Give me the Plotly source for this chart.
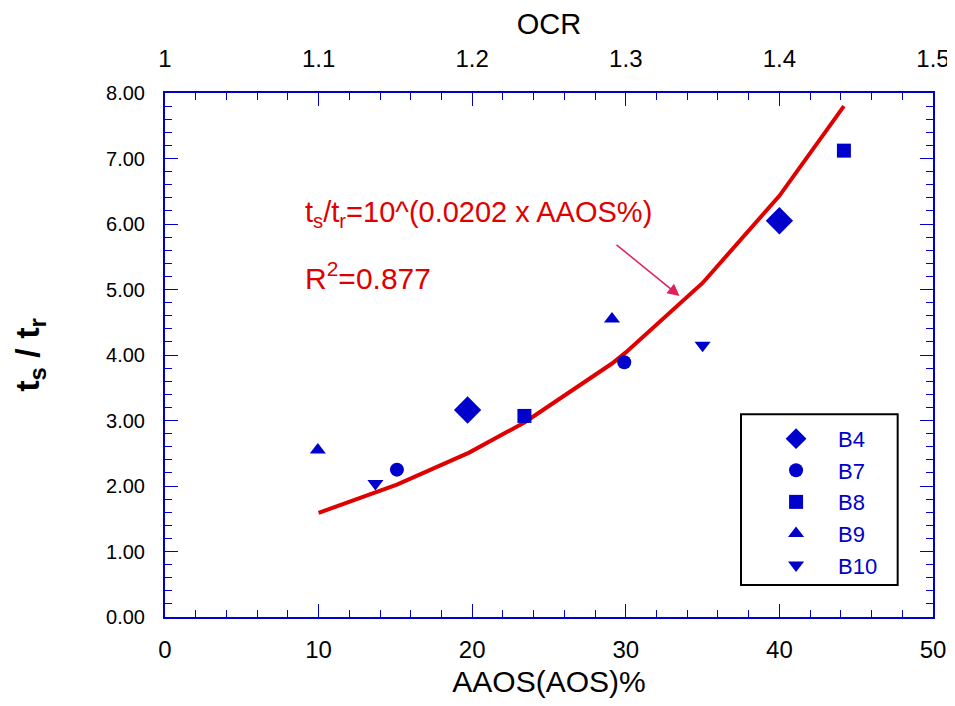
import plotly.graph_objects as go

# ---- data ----
series_names = ["B4", "B7", "B8", "B9", "B10"]
b4_x = [19.7, 40.0]
b4_y = [3.16, 6.05]
b7_x = [15.1, 29.9]
b7_y = [2.25, 3.89]
b8_x = [23.4, 44.2]
b8_y = [3.07, 7.12]
b9_x = [9.95, 29.1]
b9_y = [2.55, 4.55]
b10_x = [13.7, 35.0]
b10_y = [2.04, 4.15]

fit_x = [10.0, 13.8, 15.1, 19.8, 23.4, 29.1, 30.0, 35.0, 40.0, 44.2]
fit_y = [1.59, 1.90, 2.02, 2.51, 2.97, 3.87, 4.04, 5.10, 6.43, 7.80]

x_ticks = [0, 10, 20, 30, 40, 50]
ocr_ticks = [1, 1.1, 1.2, 1.3, 1.4, 1.5]
ocr_labels = ["1", "1.1", "1.2", "1.3", "1.4", "1.5"]
y_ticks = [0, 1, 2, 3, 4, 5, 6, 7, 8]

BLUE = "#0000cc"
RED = "#e00000"
FONT = "Arial, Liberation Sans, sans-serif"

fig = go.Figure()

fig.add_trace(go.Scatter(x=fit_x, y=fit_y, mode="lines",
                         line=dict(color=RED, width=4), showlegend=False,
                         hoverinfo="skip"))

symbols = ["diamond", "circle", "square", "triangle-up", "triangle-down"]
sizes = [21, 14, 14, 14, 14]
xs = [b4_x, b7_x, b8_x, b9_x, b10_x]
ys = [b4_y, b7_y, b8_y, b9_y, b10_y]
for name, sx, sy, sym, sz in zip(series_names, xs, ys, symbols, sizes):
    fig.add_trace(go.Scatter(x=sx, y=sy, mode="markers", name=name,
                             marker=dict(symbol=sym, size=sz, color=BLUE,
                                         line=dict(width=0))))

# invisible trace for top axis
fig.add_trace(go.Scatter(x=[ocr_ticks[0], ocr_ticks[-1]], y=[0, 0], xaxis="x2",
                         mode="markers", marker=dict(opacity=0),
                         showlegend=False, hoverinfo="skip"))

xtickfont = dict(family=FONT, size=24, color="black")
ytickfont = dict(family=FONT, size=20, color="black")

# page body has an 8px margin: compensate so the plot area lands at 165..933 x 93..617
fig.update_layout(
    width=947, height=690,
    margin=dict(l=157, r=22, t=85, b=81, autoexpand=False),
    paper_bgcolor="white", plot_bgcolor="white",
    font=dict(family=FONT),
    xaxis=dict(range=[0, 50], tickvals=x_ticks, ticks="inside", ticklen=13,
               tickwidth=1, tickcolor=BLUE, showline=True, linecolor=BLUE,
               linewidth=2, showgrid=False, zeroline=False, automargin=False,
               tickfont=xtickfont, ticklabelstandoff=10, ticklabeloverflow="allow",
               minor=dict(dtick=2, ticks="inside", ticklen=7, tickcolor=BLUE, showgrid=False),
               title=dict(text="AAOS(AOS)%", font=dict(family=FONT, size=30, color="black"), standoff=10)),
    xaxis2=dict(range=[1, 1.5], tickvals=ocr_ticks, ticktext=ocr_labels,
                overlaying="x", side="top", anchor="y", automargin=False,
                ticks="inside", ticklen=13, tickwidth=1, tickcolor=BLUE,
                showline=True, linecolor=BLUE, linewidth=2, showgrid=False, zeroline=False,
                tickfont=xtickfont, ticklabelstandoff=14, ticklabeloverflow="allow",
                minor=dict(dtick=0.02, ticks="inside", ticklen=7, tickcolor=BLUE, showgrid=False),
                title=dict(text="OCR", font=dict(family=FONT, size=29, color="black"), standoff=10)),
    yaxis=dict(range=[0, 8], tickvals=y_ticks, tickformat=".2f", ticks="inside",
               ticklen=13, tickwidth=1, tickcolor=BLUE, showline=True, linecolor=BLUE,
               linewidth=2, mirror="ticks", showgrid=False, zeroline=False, automargin=False,
               tickfont=ytickfont, ticklabelstandoff=14,
               minor=dict(dtick=0.2, ticks="inside", ticklen=7, tickcolor=BLUE, showgrid=False),
               title=dict(text="<b>t<sub>s</sub> / t<sub>r</sub></b>",
                          font=dict(family=FONT, size=34, color="black"), standoff=62)),
    legend=dict(x=0.767, y=0.38, xanchor="left", yanchor="top",
                bgcolor="rgba(0,0,0,0)", borderwidth=0,
                font=dict(family=FONT, size=22, color=BLUE),
                itemwidth=74, tracegroupgap=0),
    shapes=[dict(type="rect", xref="paper", yref="paper",
                 x0=0.75, x1=0.954, y0=0.061, y1=0.387,
                 line=dict(color="black", width=2))],
    annotations=[
        dict(text="t<sub>s</sub>/t<sub>r</sub>=10^(0.0202 x AAOS%)", x=9.0, y=6.15,
             xref="x", yref="y", xanchor="left", yanchor="middle", showarrow=False,
             font=dict(family=FONT, size=29, color=RED)),
        dict(text="R<sup>2</sup>=0.877", x=9.0, y=5.2,
             xref="x", yref="y", xanchor="left", yanchor="middle", showarrow=False,
             font=dict(family=FONT, size=30, color=RED)),
        dict(x=33.5, y=4.9, ax=29.3, ay=5.7, xref="x", yref="y", axref="x", ayref="y",
             text="", showarrow=True, arrowhead=2, arrowsize=1.6, arrowwidth=1.5,
             arrowcolor="#e0205a"),
    ],
)

fig.write_html("out.html")
